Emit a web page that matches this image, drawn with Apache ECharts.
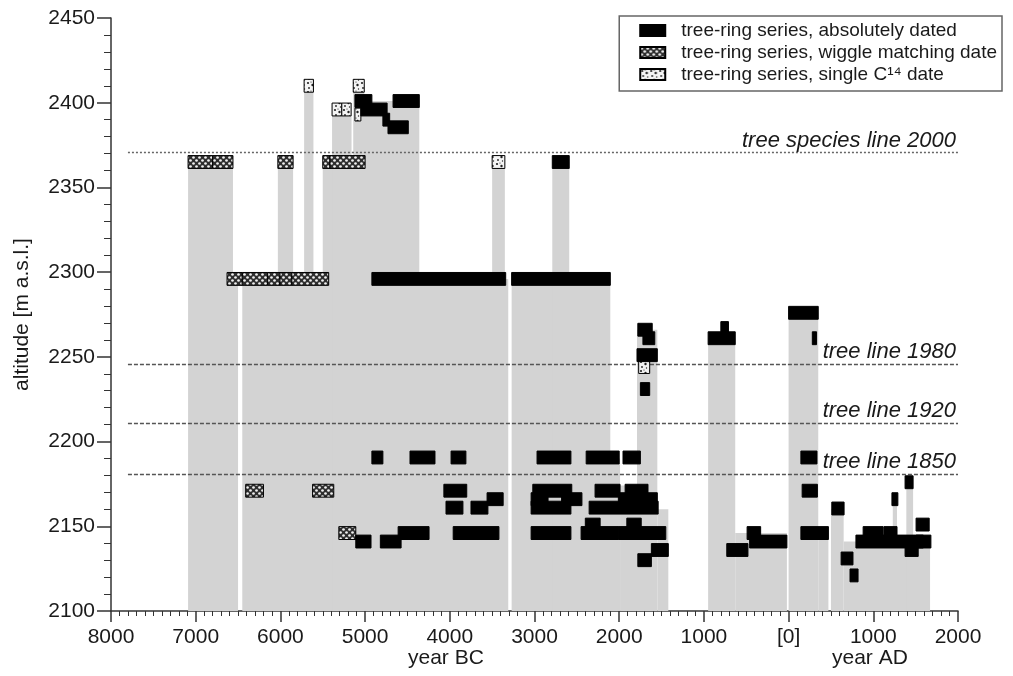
<!DOCTYPE html>
<html><head><meta charset="utf-8">
<script src="https://cdn.jsdelivr.net/npm/echarts@6/dist/echarts.min.js"></script>
<style>html,body{margin:0;padding:0;background:#fff}#c{width:1013px;height:676px}</style>
</head><body><div id="c"></div>
<script>
// ---- data ----
// x values: negative = year BC, positive = year AD
const xTickValues = [-8000,-7000,-6000,-5000,-4000,-3000,-2000,-1000,0,1000,2000];
const yTickValues = [2100,2150,2200,2250,2300,2350,2400,2450];

// grey columns: [start year, end year, top altitude] (down to 2100)
const greyColumns = [
  [-7090,-6560,2365],[-6630,-6500,2296],[-6450,-3310,2296],[-6030,-5850,2365],
  [-5720,-5610,2410],[-5500,-5000,2365],[-5390,-5160,2396],[-5120,-4360,2401],
  [-5140,-5010,2410],[-3500,-3350,2365],[-3270,-2105,2296],[-2790,-2590,2365],
  [-2390,-1990,2190],[-1990,-1790,2174],[-1790,-1550,2266],[-1550,-1420,2160],
  [-950,-630,2261],[-630,-20,2146],[0,350,2276],[350,470,2146],
  [500,650,2160],[650,1670,2141],[1230,1280,2166],[1390,1470,2176]
];

// tree-ring series, absolutely dated: [start, end, altitude]
const absDated = [
  [-5120,-4920,2401],[-5050,-4740,2396],[-4790,-4710,2390],[-4730,-4490,2385.5],[-4670,-4360,2401],
  [-2790,-2590,2365],[-4920,-3340,2296],[-3270,-2105,2296],
  [-1780,-1610,2266],[-1720,-1580,2261],[-1790,-1550,2251],[-1750,-1640,2231],
  [-950,-630,2261],[-800,-710,2267],[0,350,2276],[280,330,2261],
  [-4920,-4790,2190.6],[-4470,-4175,2190.6],[-3985,-3810,2190.6],
  [-4070,-3800,2171],[-4045,-3845,2161],[-3750,-3550,2161],[-3560,-3370,2166],
  [-5110,-4930,2141],[-4820,-4575,2141],[-4610,-4245,2146],[-3960,-3420,2146],
  [-2970,-2570,2190.6],[-2390,-2000,2190.6],[-1955,-1750,2190.6],
  [-3020,-2560,2171],[-3040,-2840,2166],[-2680,-2440,2166],[-3040,-2570,2161],
  [-2285,-1990,2171],[-1930,-1660,2171],[-2010,-1550,2166],[-2355,-1540,2161],
  [-3040,-2570,2146],[-2450,-2010,2146],[-2010,-1450,2146],
  [-2400,-2225,2151],[-1910,-1740,2151],[-1620,-1420,2136],[-1780,-1620,2130],
  [-730,-480,2136],[-490,-330,2146],[-460,-20,2141],
  [145,335,2190.6],[160,340,2171],[145,470,2146],
  [510,655,2160.5],[620,760,2131],[725,820,2121],[795,1590,2141],
  [880,1115,2146],[1125,1280,2146],[1220,1290,2166],[1375,1470,2176],
  [1375,1530,2136],[1505,1660,2151],[1505,1680,2141]
];

// tree-ring series, wiggle matching date
const wiggleDated = [
  [-7090,-6800,2365],[-6800,-6560,2365],[-6030,-5850,2365],[-5500,-5415,2365],[-5415,-5000,2365],
  [-6630,-6450,2296],[-6450,-6150,2296],[-6150,-6005,2296],[-6005,-5865,2296],[-5865,-5430,2296],
  [-6410,-6200,2171],[-5620,-5370,2171],[-5310,-5110,2146]
];

// tree-ring series, single C14 date
const singleC14 = [
  [-5720,-5610,2410],[-5390,-5275,2396],[-5275,-5165,2396],[-5140,-5010,2410],
  [-5120,-5050,2393],[-3500,-3350,2365],[-1770,-1640,2244]
];

// reference lines
const lineNames = ['tree species line 2000','tree line 1980','tree line 1920','tree line 1850'];
const lineAltitudes = [2370.5, 2245.8, 2210.8, 2181];
const lineStart = -7800, lineEnd = 2000;

// ---- patterns ----
function wigglePattern(){
  const c=document.createElement('canvas'); c.width=6; c.height=6;
  const g=c.getContext('2d');
  g.fillStyle='#2e2e2e'; g.fillRect(0,0,6,6);
  g.fillStyle='#f0f0f0';
  [[1.5,1.5],[4.5,4.5]].forEach(p=>{g.beginPath();g.arc(p[0],p[1],1.35,0,Math.PI*2);g.fill();});
  return c;
}
function dotPattern(){
  const c=document.createElement('canvas'); c.width=9; c.height=9;
  const g=c.getContext('2d');
  g.fillStyle='#f4f4f4'; g.fillRect(0,0,9,9);
  g.fillStyle='#222';
  [[2,2,1.1],[6.5,4,1.2],[3,7,0.9],[7.5,8,0.7],[5,1,0.6]].forEach(p=>{g.beginPath();g.arc(p[0],p[1],p[2],0,Math.PI*2);g.fill();});
  return c;
}
const wigFill = {image: wigglePattern(), repeat:'repeat'};
const dotFill = {image: dotPattern(), repeat:'repeat'};

const HALF = 3.8;
function blockRender(fill){
  return function(params, api){
    const p0 = api.coord([api.value(0), api.value(2)+HALF]);
    const p1 = api.coord([api.value(1), api.value(2)-HALF]);
    return {type:'rect', shape:{x:p0[0], y:p0[1], width:p1[0]-p0[0], height:p1[1]-p0[1]},
      style:{fill:fill, stroke:'#000', lineWidth:1}};
  };
}
function greyRender(params, api){
  const p0 = api.coord([api.value(0), api.value(2)]);
  const p1 = api.coord([api.value(1), 2100]);
  return {type:'rect', shape:{x:p0[0], y:p0[1], width:p1[0]-p0[0], height:p1[1]-p0[1]},
    style:{fill:'#d3d3d3'}};
}

const FONT = 'Liberation Sans, Arial, Helvetica, sans-serif';

const lineSeries = {
  type:'line', data:[], silent:true, z:3,
  markLine:{
    symbol:'none', silent:true, animation:false,
    data: lineNames.map((n,i)=>[
      {coord:[lineStart, lineAltitudes[i]], name:n,
       lineStyle:{type: i===0 ? [2,2] : [4,2], color: i===0 ? '#666' : '#555', width: 1.4}},
      {coord:[lineEnd, lineAltitudes[i]]}
    ]),
    label:{show:true, position:'insideEndTop', formatter:p=>p.name, fontStyle:'italic',
      fontFamily:FONT, fontSize:22, color:'#1a1a1a', distance:[2,1]}
  }
};

const chart = echarts.init(document.getElementById('c'), null, {renderer:'canvas'});
chart.setOption({
  animation:false,
  backgroundColor:'#fff',
  grid:{left:111, right:55, top:18, bottom:65},
  legend:{
    data:['tree-ring series, absolutely dated','tree-ring series, wiggle matching date','tree-ring series, single C¹⁴ date'],
    orient:'vertical', right:11, top:16, icon:'rect', itemWidth:25, itemHeight:11, itemGap:3,
    padding:[5,5,7,20], borderColor:'#666', borderWidth:1.5, backgroundColor:'#fff',
    textStyle:{fontFamily:FONT, fontSize:19, color:'#1a1a1a', padding:[0,0,0,11]},
    selectedMode:false
  },
  xAxis:{
    type:'value', min:-8000, max:2000, interval:1000,
    axisLine:{onZero:false, lineStyle:{color:'#333', width:1.5}},
    axisTick:{length:11, lineStyle:{color:'#333', width:1.5}},
    minorTick:{show:true, splitNumber:10, length:5, lineStyle:{color:'#333', width:1}},
    splitLine:{show:false},
    axisLabel:{fontFamily:FONT, fontSize:21, color:'#1a1a1a', margin:16,
      formatter:v=> v<0 ? String(-v) : (v===0 ? '[0]' : String(v))}
  },
  yAxis:{
    type:'value', min:2100, max:2450, interval:50,
    name:'altitude [m a.s.l.]', nameLocation:'middle', nameGap:78,
    nameTextStyle:{fontFamily:FONT, fontSize:21, color:'#1a1a1a'},
    axisLine:{show:true, onZero:false, lineStyle:{color:'#333', width:1.5}},
    axisTick:{show:true, length:14, lineStyle:{color:'#333', width:1.5}},
    minorTick:{show:true, splitNumber:5, length:7, lineStyle:{color:'#333', width:1}},
    splitLine:{show:false},
    axisLabel:{fontFamily:FONT, fontSize:21, color:'#1a1a1a', margin:16, formatter:v=>String(v)}
  },
  graphic:[
    {type:'text', left:408, top:648, style:{text:'year BC', fontFamily:FONT, fontSize:21, fill:'#1a1a1a'}},
    {type:'text', left:832, top:648, style:{text:'year AD', fontFamily:FONT, fontSize:21, fill:'#1a1a1a'}}
  ],
  series:[
    {type:'custom', name:'grey', renderItem:greyRender, data:greyColumns, encode:{x:[0,1], y:2}, z:1, silent:true},
    lineSeries,
    {type:'custom', name:'tree-ring series, wiggle matching date', renderItem:blockRender(wigFill),
      itemStyle:{color:wigFill, borderColor:'#000', borderWidth:1}, data:wiggleDated, encode:{x:[0,1], y:2}, z:5},
    {type:'custom', name:'tree-ring series, single C¹⁴ date', renderItem:blockRender(dotFill),
      itemStyle:{color:dotFill, borderColor:'#000', borderWidth:1}, data:singleC14, encode:{x:[0,1], y:2}, z:5},
    {type:'custom', name:'tree-ring series, absolutely dated', renderItem:blockRender('#000'),
      itemStyle:{color:'#000', borderColor:'#000', borderWidth:1}, data:absDated, encode:{x:[0,1], y:2}, z:6}
  ]
});
</script></body></html>
